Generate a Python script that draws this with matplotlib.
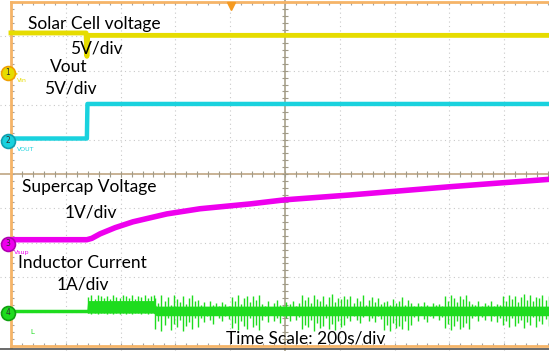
import numpy as np
import matplotlib
matplotlib.use("Agg")
import matplotlib.pyplot as plt

# time base: 200 s/div, 10 div on screen; vertical 10 div

# ch1 solar cell voltage (V), 5 V/div
solar_t = [0, 274, 277, 280, 1964]
solar_v = [5.8, 5.8, 2.4, 5.45, 5.45]

# ch2 Vout (V), 5 V/div
vout_t = [0, 277, 279, 1964]
vout_v = [0.36, 0.36, 5.38, 5.38]

# ch3 supercap voltage (V), 1 V/div
cap_t = [0, 277, 295, 325, 380, 445, 569, 690, 872, 1000, 1237, 1420, 1602, 1785, 1964]
cap_v = [0.12, 0.12, 0.16, 0.29, 0.47, 0.64, 0.87, 1.02, 1.16, 1.28, 1.42, 1.54, 1.66, 1.77, 1.875]

# ch4 inductor current (A), 1 A/div
ind_base = 0.06
env_t = [0, 277, 280, 520, 530, 1964]
env_hi = [0.04, 0.04, 0.30, 0.30, 0.14, 0.14]
env_lo = [-0.04, -0.04, -0.06, -0.06, -0.14, -0.14]

# first burst right after switch-on (mostly positive)
burst_up = [0.40, 0.45, 0.36, 0.47, 0.42, 0.38, 0.44, 0.34, 0.46, 0.41, 0.37,
            0.45, 0.43, 0.39, 0.47, 0.35, 0.44, 0.40, 0.46, 0.38, 0.42, 0.45]
burst_dn = [0.06, 0.08, 0.05, 0.09, 0.07, 0.06, 0.10, 0.05, 0.08, 0.07, 0.09,
            0.06, 0.08, 0.05, 0.10, 0.07, 0.06, 0.09, 0.05, 0.08, 0.07, 0.06]

# later switching spikes (peak above / below baseline)
spike_up = [0.38, 0.22, 0.45, 0.30, 0.41, 0.18, 0.47, 0.35, 0.26, 0.43, 0.20, 0.39, 0.46, 0.28, 0.33,
            0.18, 0.25, 0.12, 0.30, 0.16, 0.22, 0.14, 0.27, 0.19, 0.13,
            0.40, 0.28, 0.46, 0.21, 0.37, 0.44, 0.25, 0.42, 0.31, 0.47,
            0.20, 0.15, 0.28, 0.12, 0.24, 0.33, 0.17, 0.14, 0.26, 0.19, 0.30, 0.13, 0.22,
            0.45, 0.32, 0.40, 0.24, 0.47, 0.36, 0.29, 0.43, 0.20, 0.41, 0.48, 0.27, 0.38, 0.34, 0.44,
            0.35, 0.42, 0.22, 0.38, 0.30, 0.45, 0.18, 0.33, 0.40, 0.26, 0.37, 0.21,
            0.25, 0.30, 0.18, 0.36, 0.22, 0.28, 0.40, 0.16, 0.32, 0.24,
            0.15, 0.22, 0.13, 0.27, 0.18, 0.12, 0.24, 0.16, 0.20, 0.14,
            0.44, 0.30, 0.47, 0.38, 0.25, 0.42, 0.35, 0.46, 0.28,
            0.20, 0.16, 0.28, 0.13, 0.23, 0.18, 0.30, 0.14, 0.21, 0.17,
            0.42, 0.30, 0.47, 0.36, 0.44, 0.25, 0.40, 0.48, 0.33, 0.45, 0.28, 0.41, 0.37, 0.46, 0.31, 0.43]
spike_dn = [0.52, 0.30, 0.57, 0.42, 0.20, 0.55, 0.38, 0.48, 0.25, 0.58, 0.44, 0.33, 0.53, 0.22, 0.47,
            0.20, 0.32, 0.14, 0.26, 0.38, 0.12, 0.22, 0.30, 0.16, 0.24,
            0.50, 0.36, 0.56, 0.28, 0.45, 0.53, 0.22, 0.48, 0.40, 0.55,
            0.25, 0.15, 0.33, 0.12, 0.28, 0.20, 0.36, 0.14, 0.22, 0.30, 0.13, 0.26, 0.18,
            0.54, 0.40, 0.48, 0.26, 0.57, 0.35, 0.50, 0.44, 0.22, 0.52, 0.38, 0.55, 0.30, 0.46, 0.42,
            0.22, 0.30, 0.14, 0.26, 0.35, 0.18, 0.12, 0.28, 0.20, 0.33, 0.15, 0.24,
            0.55, 0.42, 0.58, 0.36, 0.50, 0.45, 0.53, 0.30, 0.56, 0.40,
            0.18, 0.28, 0.12, 0.24, 0.32, 0.15, 0.22, 0.13, 0.26, 0.19,
            0.50, 0.38, 0.56, 0.44, 0.30, 0.53, 0.46, 0.35, 0.52,
            0.22, 0.14, 0.30, 0.18, 0.25, 0.12, 0.28, 0.16, 0.33, 0.20,
            0.40, 0.30, 0.48, 0.22, 0.44, 0.35, 0.26, 0.50, 0.32, 0.42, 0.18, 0.46, 0.28, 0.38, 0.24, 0.45]

# channel settings: (offset in div, units per div, colour, edge)
channels = {
    "1": (2.94, 5.0, "#e6dc00", "#f0a000"),
    "2": (0.96, 5.0, "#19d2de", "#10a0b0"),
    "3": (-2.03, 1.0, "#ee00ee", "#b000b0"),
    "4": (-4.04, 1.0, "#1edc1e", "#10a010"),
}
ch_tags = {"1": "Vin", "2": "VOUT", "3": "Vsup", "4": "L"}

labels = [
    ("Solar Cell voltage", 28, 24),
    ("5V/div", 70, 49),
    ("Vout", 50, 67),
    ("5V/div", 44, 89),
    ("Supercap Voltage", 22, 187),
    ("1V/div", 65, 212),
    ("Inductor Current", 18, 263),
    ("1A/div", 57, 285),
    ("Time Scale: 200s/div", 226, 338),
]

W, H = 549, 351
fig = plt.figure(figsize=(W / 100, H / 100), dpi=100)
ax = fig.add_axes([0, 0, 1, 1])
ax.set_xlim(-40.1, 1963.5)
ax.set_ylim(-5.145, 5.058)
ax.axis("off")


def to_div(ch, vals):
    off, scale = channels[ch][0], channels[ch][1]
    return off + np.asarray(vals) / scale


# graticule
grid_c = "#c9c9c9"
for k in range(1, 10):
    if k != 5:
        ax.axvline(k * 200, color=grid_c, lw=0.8, ls=(0, (1, 3)), zorder=1)
for k in range(-4, 5):
    if k != 0:
        ax.axhline(k, color=grid_c, lw=0.8, ls=(0, (1, 3)), zorder=1)
ax.axvline(1000, color="#b0a994", lw=1.3, zorder=1)
ax.axhline(0, color="#c4ac8c", lw=1.3, zorder=1)
minor_t = np.arange(0, 2000, 40)
minor_y = np.arange(-5, 5.01, 0.2)
ax.vlines(minor_t, -0.09, 0.09, color="#a09a88", lw=0.8, zorder=1)
ax.hlines(minor_y, 1000 - 11, 1000 + 11, color="#a09a88", lw=0.8, zorder=1)
ax.hlines(minor_y, 0, 12, color="#a0a0a0", lw=0.8, zorder=1)
ax.vlines(minor_t, 4.9, 5.0, color="#a0a0a0", lw=0.8, zorder=1)
ax.vlines(minor_t, -5.0, -4.9, color="#a0a0a0", lw=0.8, zorder=1)

# border
border_c = "#f5b468"
ax.axvline(0, ymin=0.01, ymax=0.995, color=border_c, lw=2, zorder=2)
ax.axhline(5.0, xmin=0.02, color=border_c, lw=2, zorder=2)
ax.axhline(-5.0, xmin=0.02, color=border_c, lw=2, zorder=2)
ax.axhline(-5.1, color="#505050", lw=1.2, zorder=2)

# trigger position marker
ax.plot([803], [4.88], marker="v", ms=6, color="#f59a20", zorder=5)

# traces
ax.plot(solar_t, to_div("1", solar_v), color=channels["1"][2], lw=3.5, zorder=3)
ax.plot(vout_t, to_div("2", vout_v), color=channels["2"][2], lw=3.2, zorder=3)
ax.plot(cap_t, to_div("3", cap_v), color=channels["3"][2], lw=4.0, zorder=3)

g_col = channels["4"][2]
env_lo_div = to_div("4", ind_base + np.asarray(env_lo))
env_hi_div = to_div("4", ind_base + np.asarray(env_hi))
ax.fill_between(env_t, env_lo_div, env_hi_div, color=g_col, lw=0, zorder=3)
ax.plot(env_t, to_div("4", [ind_base] * len(env_t)), color=g_col, lw=2.5, zorder=3)

burst_t = np.linspace(282, 522, len(burst_up))
ax.vlines(burst_t, to_div("4", ind_base - np.asarray(burst_dn)),
          to_div("4", ind_base + np.asarray(burst_up)), color=g_col, lw=1.0, zorder=3)
spike_t = np.linspace(527, 1962, len(spike_up))
ax.vlines(spike_t, to_div("4", ind_base - np.asarray(spike_dn)),
          to_div("4", ind_base + np.asarray(spike_up)), color=g_col, lw=1.0, zorder=3)

# channel markers
for ch, (off, scale, col, edge) in channels.items():
    ax.plot([-11], [off], marker="o", ms=10, mfc=col, mec=edge, mew=1.2,
            zorder=6, clip_on=False)
    ax.text(-11, off, ch, fontsize=5.5, ha="center", va="center", color="#303030",
            zorder=7)
ax.text(20, channels["1"][0] - 0.28, ch_tags["1"], fontsize=4.5, color=channels["1"][2])
ax.text(20, channels["2"][0] - 0.3, ch_tags["2"], fontsize=4.5, color=channels["2"][2])
ax.text(10, channels["3"][0] - 0.3, ch_tags["3"], fontsize=4.5, color=channels["3"][2])
ax.text(70, channels["4"][0] - 0.6, ch_tags["4"], fontsize=5, color=channels["4"][2])
ax.text(12, channels["1"][0], "\u25b8", fontsize=6, va="center", color=channels["1"][2])

# annotations
for txt, x, y in labels:
    fig.text(x / W, 1 - y / H, txt, fontsize=12.5, family="Lato",
             ha="left", va="center", color="black", zorder=10)

fig.savefig("out.png", dpi=100)
